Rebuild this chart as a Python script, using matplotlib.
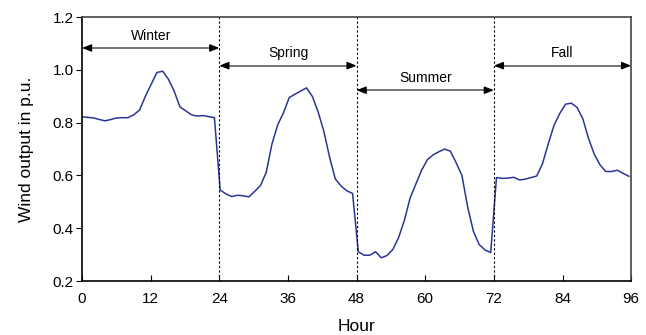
import numpy as np
import matplotlib
matplotlib.use("Agg")
import matplotlib.pyplot as plt

plt.rcParams['font.family'] = ['Liberation Sans', 'DejaVu Sans']

# hourly wind output, 24 points per season
winter = [0.822, 0.820, 0.818, 0.812, 0.807, 0.812, 0.818, 0.819, 0.819, 0.830,
          0.848, 0.900, 0.945, 0.990, 0.995, 0.965, 0.920, 0.860, 0.845, 0.830,
          0.825, 0.827, 0.823, 0.819]
spring = [0.545, 0.530, 0.520, 0.525, 0.523, 0.519, 0.540, 0.562, 0.612, 0.720,
          0.792, 0.838, 0.895, 0.908, 0.920, 0.932, 0.900, 0.842, 0.768, 0.670,
          0.587, 0.560, 0.542, 0.532]
summer = [0.311, 0.298, 0.298, 0.311, 0.288, 0.297, 0.320, 0.365, 0.430, 0.515,
          0.568, 0.620, 0.660, 0.678, 0.690, 0.700, 0.692, 0.648, 0.600, 0.480,
          0.388, 0.338, 0.318, 0.308]
fall = [0.592, 0.589, 0.590, 0.593, 0.583, 0.586, 0.592, 0.598, 0.645, 0.720,
        0.790, 0.835, 0.870, 0.874, 0.858, 0.815, 0.740, 0.680, 0.640, 0.615,
        0.615, 0.620, 0.608, 0.597]

seasons = ['Winter', 'Spring', 'Summer', 'Fall']
season_start = [0, 24, 48, 72]
label_y = [1.083, 1.016, 0.923, 1.016]
boundaries = [24, 48, 72]
xticks = [0, 12, 24, 36, 48, 60, 72, 84, 96]
yticks = [0.2, 0.4, 0.6, 0.8, 1.0, 1.2]

output = np.array(winter + spring + summer + fall)
hours = np.linspace(0, 95.6, len(output))

fig = plt.figure(figsize=(6.46, 3.35), dpi=100)
ax = fig.add_axes([0.127, 0.161, 0.850, 0.788])

ax.plot(hours, output, color='#2b3595', lw=1.1)

for b in boundaries:
    ax.axvline(b, color='black', ls=(0, (2, 2)), lw=0.8)

head = dict(arrowstyle='-|>,head_length=0.55,head_width=0.22',
            color='black', lw=1.0, shrinkA=0, shrinkB=0)
for name, s, y in zip(seasons, season_start, label_y):
    # grey shaft, black heads
    ax.plot([s + 0.5, s + 23.5], [y, y], color='#6a6a6a', lw=1.3)
    ax.annotate('', xy=(s, y), xytext=(s + 1.2, y), arrowprops=head)
    ax.annotate('', xy=(s + 24, y), xytext=(s + 22.8, y), arrowprops=head)
    ax.text(s + 12, y + 0.02, name, ha='center', va='bottom', fontsize=10)

ax.set_xlim(0, 96)
ax.set_ylim(0.2, 1.2)
ax.set_xticks(xticks)
ax.set_yticks(yticks)
ax.set_yticklabels(['%.1f' % v for v in yticks])
ax.tick_params(axis='x', direction='in', length=4, labelsize=11, pad=8)
ax.tick_params(axis='y', direction='out', length=4, labelsize=11, pad=2)

for side in ['left', 'bottom']:
    ax.spines[side].set_color('black')
    ax.spines[side].set_linewidth(1.2)
for side in ['top', 'right']:
    ax.spines[side].set_color('#444444')
    ax.spines[side].set_linewidth(1.2)

ax.set_xlabel('Hour', fontsize=12.5)
ax.set_ylabel('Wind output in p.u.', fontsize=12.5)
ax.xaxis.set_label_coords(0.5, -0.142)
ax.yaxis.set_label_coords(-0.088, 0.5)

fig.savefig('out.png', dpi=100)
